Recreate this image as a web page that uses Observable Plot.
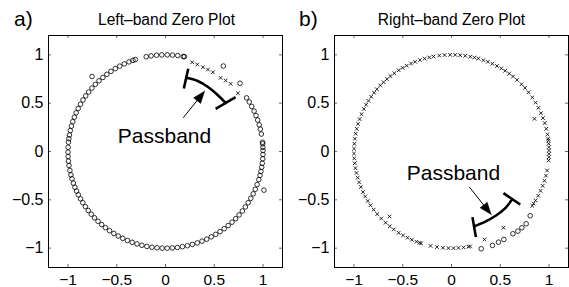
<!DOCTYPE html>
<html><head><meta charset="utf-8">
<script src="https://cdn.jsdelivr.net/npm/d3@7"></script>
<script src="https://cdn.jsdelivr.net/npm/@observablehq/plot@0.6"></script>
<style>
html,body{margin:0;padding:0;overflow:hidden;background:#fff;}
#wrap{display:flex;width:569px;height:287px;}
#wrap svg{display:block;}
</style></head><body><div id="wrap"></div>
<script>
// ---- data ----
const axisTicks = [-1, -0.5, 0, 0.5, 1];
const tickLabels = ["\u22121", "\u22120.5", "0", "0.5", "1"];

// Panel a: zeros on unit circle (degrees), "o" markers
const leftOAngles = [78.8, 79.5, 82.8, 85.9, 89.0, 92.2, 95.3, 98.5, 101.4,
  108, 109.5, 112, 115, 118, 121, 124, 127, 130, 133, 136, 139, 142, 144.9, 147.8, 150.7,
  153.6, 156.4, 159.2, 162, 164.8, 167.5, 170.2, 172.4, 174.5, 177.5, 180.4, 183, 185.7,
  188.3, 191.3, 194, 196.4, 199.1, 201.7, 204.2, 206.6, 209.3, 212, 214.8, 217.6, 220.4,
  223.3, 226.2, 229.1, 232, 235, 238, 241, 244, 247, 250, 253, 256, 259, 262, 265, 268,
  271, 274, 277, 280, 283, 286, 289, 292, 295, 298, 301, 304, 307, 310, 313, 316, 319,
  322, 325, 328, 331, 334, 337, 340, 343.1, 345.7, 348.1, 350.6, 353, 355.7, 358.2,
  0.6, 2.5, 4.6, 5.5, 10.4, 13.4, 16, 19, 21.8, 24.7, 27.8, 30.8, 33.7];
const leftOOutliers = [[-0.753, 0.776], [0.593, 0.884], [0.764, 0.706], [1.01, -0.40]];
const leftX = [[0.274, 0.923], [0.326, 0.90], [0.384, 0.872], [0.435, 0.848], [0.486, 0.820],
  [0.565, 0.762], [0.617, 0.734], [0.668, 0.700], [0.743, 0.603]];

// Panel b: zeros on unit circle (degrees), "x" markers
const rightXAngles = [6.5, 4.6, 2.5, 0.6, -1.4, -3.4, -5.3, -11.3, -14.5, -17.6, -20.8, -24,
  -27.2, -30.4, -32.6, -34.1, 7.6, 10.2, 13.6, 17.1, 20.2, 23.4, 26.9, 30.4, 34, 37.8, 41.1,
  44.1, 47.8, 50.9, 53.7, 56.6, 59.3, 62.2, 65.2, 68.1, 70.9, 74, 76.4, 78.9, 81.9, 84.9,
  87.8, 90.8, 94.1, 97.2, 100.6, 103.2, 106, 108.9, 111.9, 114.5, 117.4, 120.1, 122.8,
  125.9, 128.8, 131.5, 134.2, 136.9, 139.9, 142.6, 145.5, 148.4, 151.1, 153.9, 157.3,
  160.4, 163.4, 166.4, 169.4, 172.4, 175.4, 178.3, 181.2, 184.1, 187, 189.9, 192.8, 195.7,
  198.6, 201.6, 204.8, 207.7, 210.8, 213.8, 217, 220.4, 223.9, 227.5, 230.7, 233.7, 237.2,
  240.2, 243.2, 246, 248.9, 250.9, 251.8, 257.6, 261.4, 265, 268.2, 271.2, 274.1, 277.1,
  280, 281];
const rightXOutliers = [[0.851, 0.338], [-0.636, -0.672], [0.338, -0.91], [0.533, -0.789]];
const rightO = [[0.305, -1.006], [0.42, -0.972], [0.482, -0.938], [0.537, -0.91], [0.63, -0.851],
  [0.681, -0.824], [0.722, -0.789], [0.766, -0.748], [0.807, -0.665]];

// Passband annotations (data units)
const passA = {
  label: [-0.01, 0.155],
  arc: [[0.213, 0.762], [0.33, 0.73], [0.44, 0.665], [0.535, 0.585], [0.617, 0.502]],
  caps: [[0.233, 0.857, 0.188, 0.651], [0.719, 0.562, 0.514, 0.442]],
  shaft: [0.182, 0.349, 0.330, 0.535],
  head: [[0.401, 0.624], [0.360, 0.497], [0.288, 0.555], [0.401, 0.624]]
};
const passB = {
  label: [0.02, -0.223],
  arc: [[0.233, -0.775], [0.347, -0.726], [0.453, -0.665], [0.549, -0.589], [0.622, -0.495]],
  caps: [[0.215, -0.679, 0.25, -0.886], [0.533, -0.431, 0.705, -0.548]],
  shaft: [0.185, -0.369, 0.336, -0.562],
  head: [[0.407, -0.651], [0.366, -0.525], [0.294, -0.583], [0.407, -0.651]]
};

const rad = d => d * Math.PI / 180;
const FONT = "'Liberation Sans', Arial, Helvetica, sans-serif";
const fmt = d => tickLabels[axisTicks.indexOf(d)];

function panel({width, ml, mr, letter, title, titleDx, circles, crosses, pass}) {
  const H = 287, mt = 35, mb = 20;
  const fh = H - mt - mb, fw = width - ml - mr;
  return Plot.plot({
    width, height: H,
    marginLeft: ml, marginRight: mr, marginTop: mt, marginBottom: mb,
    x: {domain: [-1.2, 1.2]},
    y: {domain: [-1.2, 1.2]},
    style: {fontFamily: FONT, background: "white", color: "black"},
    marks: [
      Plot.frame({stroke: "black", strokeWidth: 1}),
      Plot.tickX(axisTicks, {x: d => d, insetTop: fh - 3, stroke: "black", strokeWidth: 0.6}),
      Plot.tickX(axisTicks, {x: d => d, insetBottom: fh - 3, stroke: "black", strokeWidth: 0.6}),
      Plot.tickY(axisTicks, {y: d => d, insetRight: fw - 3, stroke: "black", strokeWidth: 0.6}),
      Plot.tickY(axisTicks, {y: d => d, insetLeft: fw - 3, stroke: "black", strokeWidth: 0.6}),
      Plot.axisX(axisTicks, {tickSize: 0, tickPadding: 6, fontSize: 15.5, label: null, tickFormat: fmt}),
      Plot.axisY(axisTicks, {tickSize: 0, tickPadding: 5, fontSize: 16, label: null, tickFormat: fmt}),
      Plot.dot(circles, {x: d => d[0], y: d => d[1], r: 2.3, fill: "none", stroke: "black", strokeWidth: 0.8}),
      Plot.dot(crosses, {x: d => d[0], y: d => d[1], symbol: "times", r: 1.8, stroke: "black", strokeWidth: 0.85}),
      Plot.line(pass.arc, {x: d => d[0], y: d => d[1], curve: "natural", stroke: "black", strokeWidth: 2.6}),
      Plot.link(pass.caps, {x1: d => d[0], y1: d => d[1], x2: d => d[2], y2: d => d[3], stroke: "black", strokeWidth: 2.6}),
      Plot.link([pass.shaft], {x1: d => d[0], y1: d => d[1], x2: d => d[2], y2: d => d[3], stroke: "black", strokeWidth: 1}),
      Plot.line(pass.head, {x: d => d[0], y: d => d[1], fill: "black", stroke: "black", strokeWidth: 0.5}),
      Plot.text([pass.label], {x: d => d[0], y: d => d[1], text: () => "Passband", fontSize: 21, textAnchor: "middle", lineAnchor: "middle", fill: "black"}),
      Plot.text([title], {frameAnchor: "top", dx: titleDx, dy: -15.4, fontSize: 15.6, lineAnchor: "middle", fill: "black"}),
      Plot.text([letter], {frameAnchor: "top-left", dx: -ml + 13.5, dy: -16.7, fontSize: 21, textAnchor: "start", lineAnchor: "middle", fill: "black"})
    ]
  });
}

const leftCircles = leftOAngles.map(a => [Math.cos(rad(a)), Math.sin(rad(a))]).concat(leftOOutliers);
const rightCrosses = rightXAngles.map(a => [Math.cos(rad(a)), Math.sin(rad(a))]).concat(rightXOutliers);

const wrap = document.getElementById("wrap");
wrap.append(panel({width: 285, ml: 48, mr: 3, letter: "a)", title: "Left\u2013band Zero Plot", titleDx: 1,
  circles: leftCircles, crosses: leftX, pass: passA}));
wrap.append(panel({width: 284, ml: 49, mr: 1, letter: "b)", title: "Right\u2013band Zero Plot", titleDx: 0,
  circles: rightO, crosses: rightCrosses, pass: passB}));
</script>
</body></html>
